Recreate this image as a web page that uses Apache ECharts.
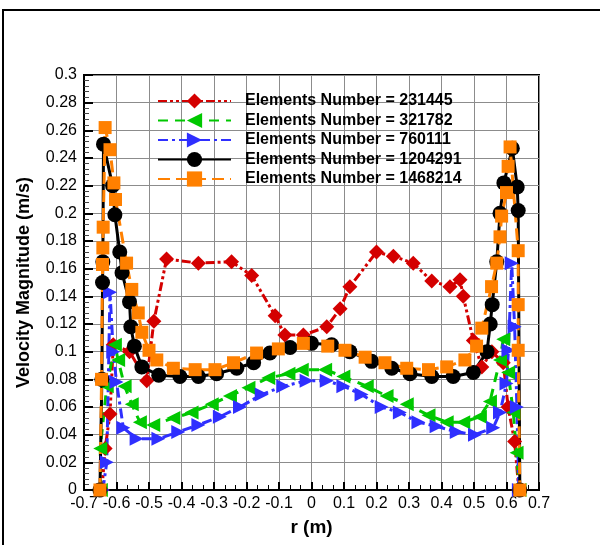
<!DOCTYPE html>
<html>
<head>
<meta charset="utf-8">
<script src="https://cdn.jsdelivr.net/npm/echarts@6/dist/echarts.min.js"></script>
<style>
  html, body { margin: 0; padding: 0; background: #fff; }
  #js_chart { width: 600px; height: 545px; }
</style>
</head>
<body>
<div id="js_chart"></div>
<script>
// series names (legend)
var seriesNames = [
    'Elements Number = 231445',
    'Elements Number = 321782',
    'Elements Number = 760111',
    'Elements Number = 1204291',
    'Elements Number = 1468214'
];
var xTicks = [-0.7, 0.7, 0.1];
var yTicks = [0, 0.3, 0.02];

// [r, velocity]
var data231445 = [
    [-0.645, 0], [-0.635, 0.030], [-0.620, 0.055], [-0.610, 0.105], [-0.560, 0.100],
    [-0.507, 0.079], [-0.485, 0.122], [-0.446, 0.167], [-0.348, 0.164], [-0.246, 0.165],
    [-0.184, 0.155], [-0.112, 0.126], [-0.082, 0.112], [-0.025, 0.112], [0.047, 0.118],
    [0.088, 0.131], [0.118, 0.147], [0.200, 0.172], [0.252, 0.169], [0.313, 0.164],
    [0.370, 0.151], [0.426, 0.147], [0.457, 0.152], [0.467, 0.140], [0.498, 0.108],
    [0.524, 0.089], [0.555, 0.100], [0.590, 0.092], [0.605, 0.060], [0.625, 0.035],
    [0.638, 0]
];
var data321782 = [
    [-0.648, 0], [-0.650, 0.030], [-0.630, 0.075], [-0.605, 0.105], [-0.595, 0.094],
    [-0.575, 0.075], [-0.553, 0.062], [-0.528, 0.049], [-0.487, 0.047], [-0.425, 0.052],
    [-0.369, 0.056], [-0.307, 0.062], [-0.251, 0.068], [-0.194, 0.074], [-0.133, 0.081],
    [-0.071, 0.084], [-0.030, 0.087], [0.042, 0.087], [0.098, 0.082], [0.170, 0.075],
    [0.231, 0.068], [0.293, 0.062], [0.360, 0.054], [0.416, 0.049], [0.467, 0.049],
    [0.518, 0.053], [0.549, 0.064], [0.580, 0.094], [0.590, 0.109], [0.605, 0.085],
    [0.621, 0.056], [0.631, 0.027], [0.640, 0]
];
var data760111 = [
    [-0.642, 0], [-0.630, 0.020], [-0.620, 0.143], [-0.610, 0.100], [-0.600, 0.078],
    [-0.579, 0.045], [-0.538, 0.037], [-0.471, 0.037], [-0.410, 0.042], [-0.348, 0.047],
    [-0.282, 0.053], [-0.220, 0.060], [-0.153, 0.069], [-0.087, 0.075], [-0.015, 0.079],
    [0.047, 0.079], [0.098, 0.075], [0.154, 0.069], [0.216, 0.060], [0.272, 0.056],
    [0.329, 0.049], [0.385, 0.046], [0.447, 0.042], [0.503, 0.040], [0.559, 0.045],
    [0.580, 0.056], [0.600, 0.077], [0.606, 0.101], [0.616, 0.164], [0.625, 0.118],
    [0.632, 0.060], [0.638, 0]
];
var data1204291 = [
    [-0.651, 0], [-0.645, 0.080], [-0.643, 0.150], [-0.642, 0.165], [-0.640, 0.250],
    [-0.612, 0.220], [-0.605, 0.199], [-0.590, 0.172], [-0.583, 0.157], [-0.560, 0.136],
    [-0.556, 0.118], [-0.545, 0.104], [-0.522, 0.089], [-0.470, 0.083], [-0.405, 0.082],
    [-0.348, 0.082], [-0.292, 0.084], [-0.230, 0.088], [-0.178, 0.092], [-0.128, 0.099],
    [-0.066, 0.103], [0.000, 0.106], [0.062, 0.105], [0.118, 0.100], [0.185, 0.093],
    [0.247, 0.088], [0.303, 0.084], [0.370, 0.082], [0.436, 0.082], [0.498, 0.085],
    [0.540, 0.100], [0.550, 0.120], [0.556, 0.134], [0.570, 0.165], [0.580, 0.200],
    [0.592, 0.222], [0.618, 0.247], [0.633, 0.219], [0.636, 0.202], [0.641, 0]
];
var data1468214 = [
    [-0.651, 0], [-0.646, 0.080], [-0.643, 0.163], [-0.642, 0.175], [-0.641, 0.190],
    [-0.635, 0.262], [-0.620, 0.246], [-0.608, 0.222], [-0.603, 0.210], [-0.569, 0.164],
    [-0.553, 0.145], [-0.533, 0.128], [-0.522, 0.114], [-0.500, 0.101], [-0.476, 0.094],
    [-0.425, 0.088], [-0.358, 0.087], [-0.297, 0.087], [-0.240, 0.092], [-0.169, 0.099],
    [-0.102, 0.102], [-0.025, 0.106], [0.050, 0.104], [0.103, 0.101], [0.165, 0.096],
    [0.226, 0.092], [0.293, 0.088], [0.360, 0.087], [0.416, 0.089], [0.472, 0.094],
    [0.508, 0.104], [0.524, 0.117], [0.554, 0.147], [0.570, 0.164], [0.580, 0.183],
    [0.585, 0.198], [0.600, 0.215], [0.605, 0.234], [0.611, 0.248], [0.636, 0.173],
    [0.636, 0.134], [0.636, 0.101], [0.641, 0]
];

function mkSeries(name, data, color, dash, symbol, size, rot) {
    return {
        name: name,
        type: 'line',
        data: data,
        symbol: symbol,
        symbolSize: size,
        symbolRotate: rot || 0,
        showAllSymbol: true,
        animation: false,
        itemStyle: { color: color },
        lineStyle: { color: color, width: 3, type: dash }
    };
}

var myChart = echarts.init(document.getElementById('js_chart'));
var option = {
    backgroundColor: '#fff',
    animation: false,
    textStyle: { fontFamily: 'Liberation Sans, Arial, sans-serif' },
    graphic: [{
        type: 'rect',
        shape: { x: 3, y: 10, width: 640, height: 560 },
        style: { fill: 'none', stroke: '#000', lineWidth: 2 },
        silent: true
    }],
    grid: {
        left: 84, right: 61, top: 75, bottom: 55,
        show: true, borderColor: '#000', borderWidth: 2, backgroundColor: 'transparent'
    },
    legend: {
        orient: 'vertical',
        left: 152,
        top: 88,
        itemWidth: 73,
        itemHeight: 19,
        itemGap: 3.5,
        data: seriesNames,
        textStyle: {
            color: '#000',
            fontWeight: 'bold',
            fontSize: 16,
            padding: [0, 0, 0, 9]
        }
    },
    xAxis: {
        type: 'value',
        min: xTicks[0], max: xTicks[1], interval: xTicks[2],
        name: 'r (m)',
        nameLocation: 'middle',
        nameGap: 28,
        nameTextStyle: { color: '#000', fontWeight: 'bold', fontSize: 19 },
        axisLine: { onZero: false, lineStyle: { color: '#000', width: 2 } },
        axisTick: { inside: true, length: 8, lineStyle: { color: '#000', width: 2 } },
        minorTick: { show: true, splitNumber: 3, length: 5, lineStyle: { color: '#000' } },
        axisLabel: {
            color: '#000', fontSize: 16, margin: 6,
            formatter: function (v) { return String(+v.toFixed(1)); }
        },
        splitLine: { show: true, lineStyle: { color: '#8c8c8c', width: 1 } }
    },
    yAxis: {
        type: 'value',
        min: yTicks[0], max: yTicks[1], interval: yTicks[2],
        name: 'Velocity Magnitude (m/s)',
        nameLocation: 'middle',
        nameGap: 51,
        nameTextStyle: { color: '#000', fontWeight: 'bold', fontSize: 18 },
        axisLine: { onZero: false, lineStyle: { color: '#000', width: 2 } },
        axisTick: { inside: true, length: 9, lineStyle: { color: '#000', width: 2 } },
        minorTick: { show: true, splitNumber: 5, length: 5, lineStyle: { color: '#444' } },
        axisLabel: {
            color: '#000', fontSize: 16, margin: 7,
            formatter: function (v) { return String(+v.toFixed(2)); }
        },
        splitLine: { show: true, lineStyle: { color: '#8c8c8c', width: 1 } }
    },
    series: [
        mkSeries(seriesNames[0], data231445, '#d40000', [9, 3, 3, 3, 3, 3], 'diamond', 15),
        mkSeries(seriesNames[1], data321782, '#00c800', [10, 7], 'triangle', 14, 90),
        mkSeries(seriesNames[2], data760111, '#2f2fff', [10, 4, 3, 4], 'triangle', 14, -90),
        mkSeries(seriesNames[3], data1204291, '#000000', 'solid', 'circle', 15),
        mkSeries(seriesNames[4], data1468214, '#ff8000', [12, 6], 'rect', 13)
    ]
};
myChart.setOption(option);
window.addEventListener('resize', function () { myChart.resize(); });
</script>
</body>
</html>
